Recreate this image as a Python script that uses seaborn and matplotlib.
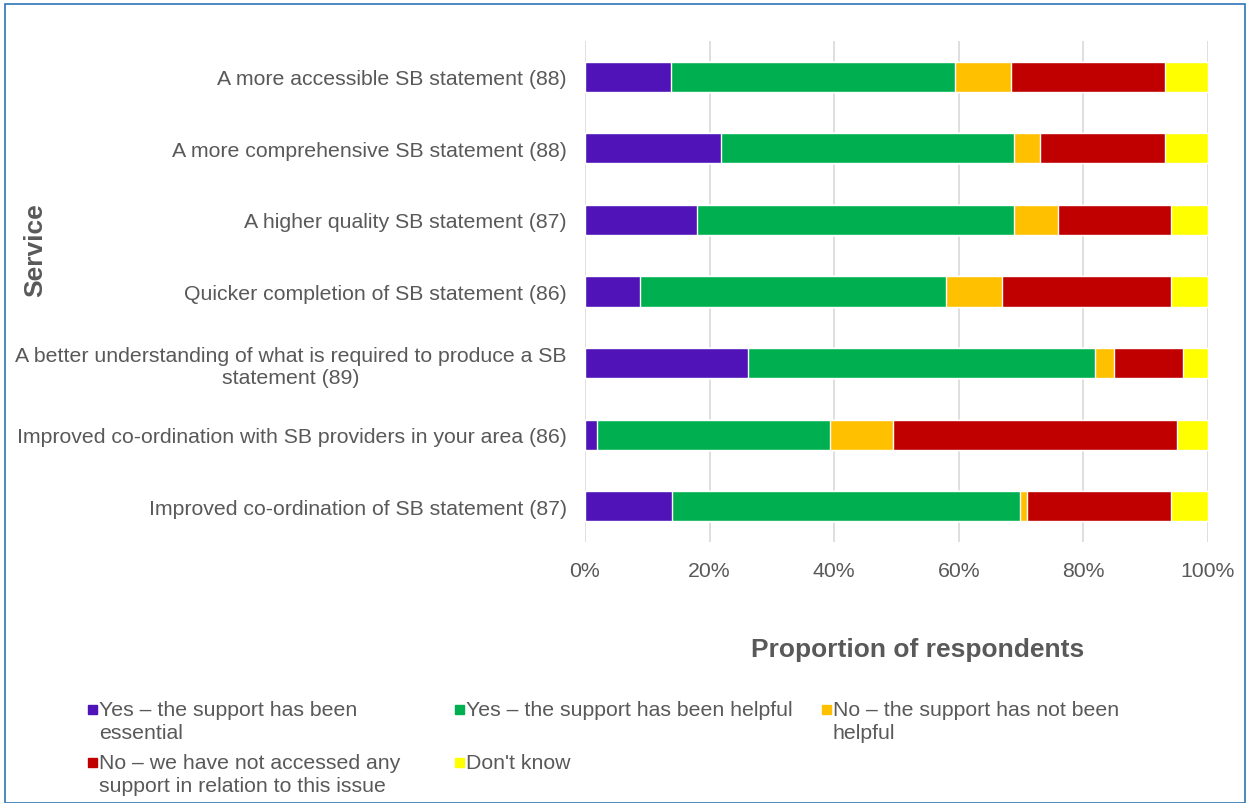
import numpy as np
import pandas as pd
import matplotlib
matplotlib.use("Agg")
import matplotlib.pyplot as plt
from matplotlib.patches import Rectangle
import seaborn as sns

categories = [
    "A more accessible SB statement (88)",
    "A more comprehensive SB statement (88)",
    "A higher quality SB statement (87)",
    "Quicker completion of SB statement (86)",
    "A better understanding of what is required to produce a SB\nstatement (89)",
    "Improved co-ordination with SB providers in your area (86)",
    "Improved co-ordination of SB statement (87)",
]
essential = [13.8, 21.8, 18.0, 8.9, 26.2, 2.0, 13.9]
helpful = [45.6, 47.1, 50.9, 49.1, 55.6, 37.3, 56.0]
not_helpful = [8.9, 4.2, 7.1, 9.0, 3.1, 10.2, 1.1]
not_accessed = [24.8, 20.0, 18.0, 27.0, 11.1, 45.5, 23.0]
dont_know = [6.9, 6.9, 6.0, 6.0, 4.0, 5.0, 6.0]

series_names = [
    "Yes – the support has been\nessential",
    "Yes – the support has been helpful",
    "No – the support has not been\nhelpful",
    "No – we have not accessed any\nsupport in relation to this issue",
    "Don't know",
]
colors = ["#4F13B7", "#00B050", "#FFC000", "#C00000", "#FFFF00"]
xticks = [0, 20, 40, 60, 80, 100]
xtick_labels = ["0%", "20%", "40%", "60%", "80%", "100%"]

sns.set_style("white")
plt.rcParams["font.family"] = ["Liberation Sans", "DejaVu Sans"]
text_color = "#595959"
fs = 15.3

fig = plt.figure(figsize=(12.47, 8.04), dpi=100)
ax = fig.add_axes([585 / 1247, 1 - 543 / 804, (1208 - 585) / 1247, (543 - 42) / 804])

vals = np.array([essential, helpful, not_helpful, not_accessed, dont_know])
cum = np.cumsum(vals, axis=0)

for i in range(len(series_names) - 1, -1, -1):
    df = pd.DataFrame({"cat": categories, "v": cum[i]})
    sns.barplot(data=df, x="v", y="cat", orient="h", color=colors[i],
                saturation=1, width=0.42, ax=ax, zorder=3)

ax.set_xlim(0, 100)
ax.set_xticks(xticks)
ax.set_xticklabels(xtick_labels)
ax.xaxis.grid(True, color="#D9D9D9", linewidth=1.2, zorder=0)
ax.set_axisbelow(True)
for s in ax.spines.values():
    s.set_visible(False)
ax.tick_params(axis="both", length=0, colors=text_color, labelsize=fs)
ax.tick_params(axis="x", pad=14)
ax.tick_params(axis="y", pad=13)
for lbl in ax.get_yticklabels():
    lbl.set_horizontalalignment("right")
    lbl.set_multialignment("center")
ax.set_xlabel("")
ax.set_ylabel("")

fig.text(918 / 1247, 1 - 650 / 804, "Proportion of respondents", ha="center", va="center",
         fontsize=19, fontweight="bold", color=text_color)
fig.text(35 / 1247, 1 - 250 / 804, "Service", ha="center", va="center", rotation=90,
         fontsize=19, fontweight="bold", color=text_color)

# legend (manual, row-major layout)
positions = [(88, 701), (455, 701), (822, 701), (88, 754), (455, 754)]
for (px, py), name, c in zip(positions, series_names, colors):
    fig.patches.append(Rectangle((px / 1247, 1 - (py + 14) / 804), 9 / 1247, 9 / 804,
                                 transform=fig.transFigure, color=c))
    fig.text((px + 11) / 1247, 1 - py / 804, name, ha="left", va="top",
             fontsize=fs, color=text_color, linespacing=1.3)

# border
fig.patches.append(Rectangle((0.004, 0.0), 0.994, 0.994, transform=fig.transFigure,
                             fill=False, edgecolor="#2E75B6", linewidth=1.2))

fig.savefig("out.png", dpi=100)
